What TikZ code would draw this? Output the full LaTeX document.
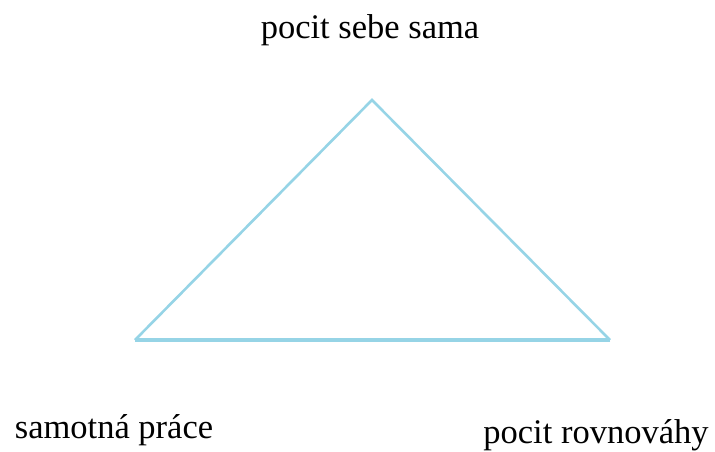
\documentclass[tikz,border=0pt]{standalone}
\usepackage{fontspec}
\setmainfont{Liberation Serif}
\definecolor{tri}{RGB}{150,212,230}
\begin{document}
\begin{tikzpicture}[x=1pt,y=1pt,
  lbl/.style={font=\fontsize{34.5}{40}\selectfont, text=black, inner sep=0pt},
  edge/.style={draw=tri, line width=2.6pt, line join=miter}]
\useasboundingbox (0,0) rectangle (715,451);
\coordinate (top) at (372,351);
\coordinate (left) at (135,111);
\coordinate (right) at (610,111);
\draw[edge] (left) -- (top) -- (right);
\draw[edge, line width=3.4pt] (right) -- (left);
\node[lbl] (t) at (370,421) {pocit sebe sama};
\node[lbl] (l) at (114,21) {samotná práce};
\node[lbl] (r) at (596,16) {pocit rovnováhy};
\end{tikzpicture}
\end{document}
